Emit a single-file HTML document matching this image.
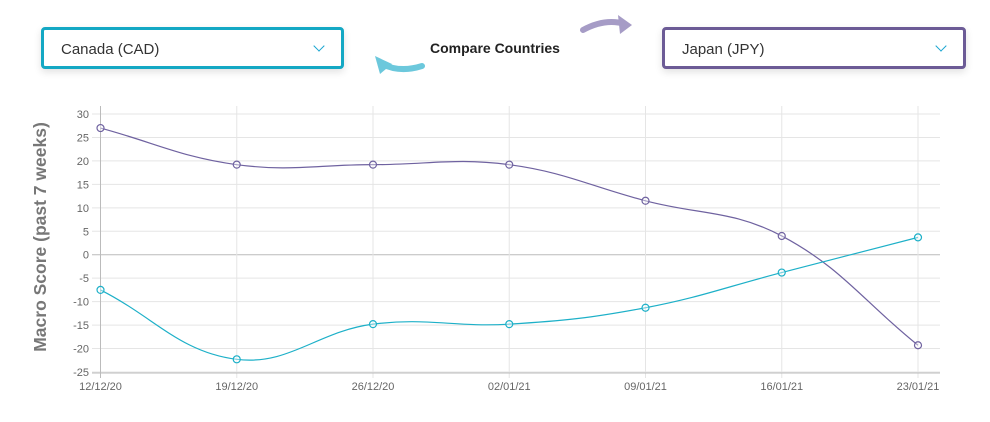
<!DOCTYPE html>
<html><head><meta charset="utf-8"><style>
body{margin:0;width:990px;height:422px;background:#fff;font-family:"Liberation Sans",sans-serif;overflow:hidden;position:relative}
.sel{position:absolute;top:27px;height:42px;border:3px solid;border-radius:4px;box-sizing:border-box;box-shadow:0 3px 8px rgba(0,0,0,.12);background:#fff;font-size:15px;color:#333}
.sel span{position:absolute;left:17px;top:11px}
.sel i{position:absolute;right:18px;top:12px;width:7px;height:7px;border-right:1.5px solid #1aa5d1;border-bottom:1.5px solid #1aa5d1;transform:rotate(45deg)}
</style></head><body>
<div class="sel" style="left:41px;width:303px;border-color:#14a8c4"><span>Canada (CAD)</span><i></i></div>
<div class="sel" style="left:662px;width:304px;border-color:#6c5b96"><span>Japan (JPY)</span><i></i></div>
<div style="position:absolute;left:430px;top:40px;font-weight:bold;font-size:14px;color:#222">Compare Countries</div>
<svg style="position:absolute;left:0;top:0" width="990" height="90">
<path d="M583 30 Q605 18 625 24" stroke="#a69cc6" stroke-width="6" fill="none" stroke-linecap="round"/><path d="M618 15 L632 25 L620 34Z" fill="#a69cc6"/>
<path d="M422 66 Q400 73 382 64" stroke="#6cc8dc" stroke-width="6" fill="none" stroke-linecap="round"/><path d="M375 56 L380 74 L392 64Z" fill="#6cc8dc"/>
</svg>
<svg id="chart" style="position:absolute;left:0;top:0" width="990" height="422"></svg>
<script>
const labels=["12/12/20","19/12/20","26/12/20","02/01/21","09/01/21","16/01/21","23/01/21"];
const japan=[27,19.2,19.2,19.2,11.5,4,-19.3];
const canada=[-7.5,-22.3,-14.8,-14.8,-11.3,-3.8,3.7];
const yTicks=[30,25,20,15,10,5,0,-5,-10,-15,-20,-25];
const svg=document.getElementById('chart');const NS="http://www.w3.org/2000/svg";
const x0=100.5,x1=918,yMax=30,yMin=-25,yTop=114,yBot=372;
const X=i=>x0+i*(x1-x0)/(labels.length-1);
const Y=v=>yTop+(yMax-v)*(yBot-yTop)/(yMax-yMin);
function mk(t,a,p){const e=document.createElementNS(NS,t);for(const k in a)e.setAttribute(k,a[k]);(p||svg).appendChild(e);return e;}
yTicks.forEach(v=>{
const l=mk('line',{x1:92,x2:940,y1:Y(v),y2:Y(v),stroke:v===0?'#bbb':'#e5e5e5','stroke-width':1});


const t=mk('text',{x:89,y:Y(v)+4,'text-anchor':'end','font-size':11,fill:'#666'});t.textContent=v;


});
labels.forEach((s,i)=>{
const l=mk('line',{x1:X(i),x2:X(i),y1:106,y2:378,stroke:i===0?'#bbb':'#e5e5e5'});


const t=mk('text',{x:X(i),y:390,'text-anchor':'middle','font-size':11,fill:'#666'});t.textContent=s;


});
mk('line',{x1:92,x2:940,y1:yBot+1,y2:yBot+1,stroke:'#bbb'});
const yt=mk('text',{x:0,y:0,transform:'translate(46,237) rotate(-90)','text-anchor':'middle','font-size':17.5,'font-weight':'bold',fill:'#777'});yt.textContent='Macro Score (past 7 weeks)';


function series(vals,col,name){
const p=vals.map((v,i)=>[X(i),Y(v)]);const t=0.4;let d=`M${p[0][0]},${p[0][1]}`;
const cp=p.map((c,i)=>{const pr=p[i-1]||c,nx=p[i+1]||c;const d01=Math.hypot(c[0]-pr[0],c[1]-pr[1]),d12=Math.hypot(nx[0]-c[0],nx[1]-c[1]);const s=d01+d12||1;const fa=t*d01/s,fb=t*d12/s;return[[c[0]-fa*(nx[0]-pr[0]),c[1]-fa*(nx[1]-pr[1])],[c[0]+fb*(nx[0]-pr[0]),c[1]+fb*(nx[1]-pr[1])]];});
for(let i=1;i<p.length;i++)d+=` C${cp[i-1][1][0]},${cp[i-1][1][1]} ${cp[i][0][0]},${cp[i][0][1]} ${p[i][0]},${p[i][1]}`;
const path=mk('path',{d,stroke:col,'stroke-width':1.2,fill:'none'});


p.forEach(q=>{const c=mk('circle',{cx:q[0],cy:q[1],r:3.5,fill:'rgba(255,255,255,0.4)',stroke:col,'stroke-width':1.2});

});
}
series(japan,'#6f62a0','japan');
series(canada,'#1db0c8','canada');
</script>
</body></html>
